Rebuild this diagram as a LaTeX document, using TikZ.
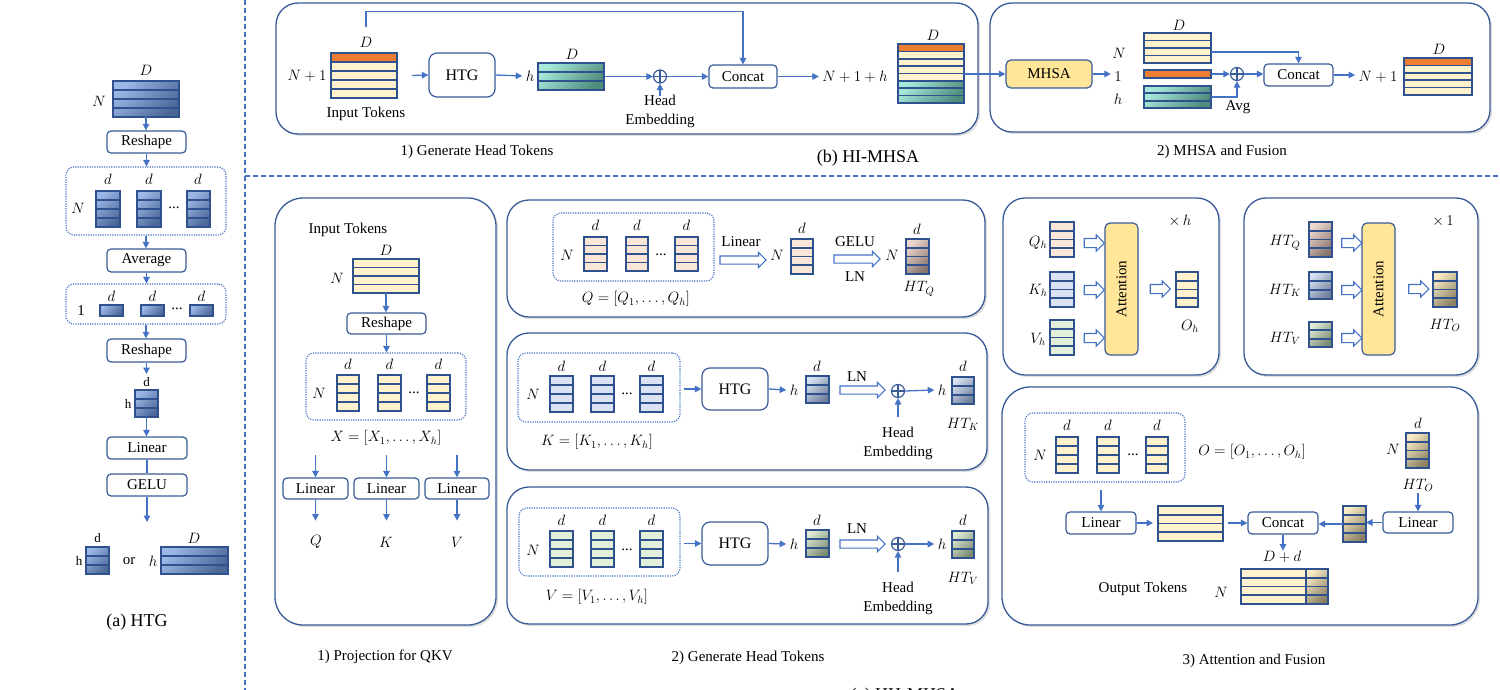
\RequirePackage{fix-cm}
\documentclass[tikz,border=0pt]{standalone}
\usepackage{fontspec}
\setmainfont{Liberation Serif}
\usetikzlibrary{arrows.meta,calc,shapes.arrows,shadows}
\definecolor{lblue}{HTML}{4472C4}
\definecolor{dblue}{HTML}{3A5B98}
\definecolor{mborder}{HTML}{2F528F}
\definecolor{yel}{HTML}{FFF2CC}
\definecolor{org}{HTML}{ED7D31}
\definecolor{cQ}{HTML}{FBE5D6}
\definecolor{cK}{HTML}{DAE3F3}
\definecolor{cV}{HTML}{E2F0D9}
\definecolor{attn}{HTML}{FFE699}
\definecolor{aT}{HTML}{9DB7E6}\definecolor{aB}{HTML}{4B6797}
\definecolor{tT}{HTML}{A6E8DA}\definecolor{tB}{HTML}{4F8C7C}
\definecolor{qT}{HTML}{EED8D0}\definecolor{qB}{HTML}{85746C}
\definecolor{kT}{HTML}{D8E3F2}\definecolor{kB}{HTML}{6E7F9B}
\definecolor{vT}{HTML}{DEEAD4}\definecolor{vB}{HTML}{7A8A6E}
\definecolor{oT}{HTML}{F8EAC2}\definecolor{oB}{HTML}{8A8063}
\tikzset{
  every node/.style={font=\fontsize{15}{19}\selectfont},
  big/.style={font=\fontsize{18}{22}\selectfont},
  htgf/.style={font=\fontsize{16}{19}\selectfont},
  arr/.style={-{Triangle[length=6.5pt,width=6.5pt]}, draw=lblue, line width=1.3pt},
  ln/.style={draw=lblue, line width=1.3pt},
  sepl/.style={draw=lblue, line width=1.5pt, dash pattern=on 5pt off 3pt},
  panel/.style={draw=dblue, line width=1.3pt, rounded corners=22pt, fill=white,
     drop shadow={opacity=0.25, shadow xshift=2pt, shadow yshift=-2pt}},
  opbox/.style={draw=dblue, line width=1.2pt, rounded corners=4pt, fill=white, inner sep=0pt},
  dotbox/.style={draw=lblue, line width=1.1pt, dash pattern=on 1.2pt off 1.2pt, rounded corners=8pt, inner sep=0pt},
  mframe/.style={draw=mborder, line width=1.7pt, inner sep=0pt, outer sep=0pt, anchor=north west},
  msep/.style={draw=mborder, line width=1.7pt},
  fillY/.style={fill=yel}, fillO/.style={fill=org},
  fillQ/.style={fill=cQ}, fillK/.style={fill=cK}, fillV/.style={fill=cV},
  gradA/.style={top color=aT, bottom color=aB, shading angle=45},
  gradT/.style={top color=tT, bottom color=tB, shading angle=45},
  gradQ/.style={top color=qT, bottom color=qB, shading angle=45},
  gradK/.style={top color=kT, bottom color=kB, shading angle=45},
  gradV/.style={top color=vT, bottom color=vB, shading angle=45},
  gradO/.style={top color=oT, bottom color=oB, shading angle=45},
  oplus/.style={circle, draw=dblue, line width=1.2pt, minimum size=13pt, inner sep=0pt,
     path picture={\draw[dblue, line width=1.2pt] (path picture bounding box.north) -- (path picture bounding box.south)
       (path picture bounding box.west) -- (path picture bounding box.east);}},
  harrow/.style={single arrow, draw=lblue, fill=white, line width=1.1pt, inner xsep=0pt, inner ysep=3.5pt,
     minimum width=14pt, single arrow head extend=3.5pt, single arrow head indent=0pt},
  sharrow/.style={harrow, inner ysep=4pt, minimum width=15pt},
  attnbox/.style={draw=dblue, line width=1.2pt, fill=attn, rounded corners=5pt, inner sep=0pt},
}
\newcommand\seps[2]{\ifnum#2>1 \foreach \k in {2,...,#2}{\pgfmathsetmacro\fr{(\k-1)/#2}%
  \draw[msep] ($(#1.north west)!\fr!(#1.south west)$) -- ($(#1.north east)!\fr!(#1.south east)$);}\fi}
\newcommand\mtx[7]{\node[mframe,#7,minimum width={#4-#2},minimum height={#5-#3}] (#1) at (#2,#3) {};\seps{#1}{#6}}
\newcommand\band[5]{\pgfmathsetmacro\fa{(#3-1)/#2}\pgfmathsetmacro\fb{#4/#2}%
  \draw[msep,#5] ($(#1.north west)!\fa!(#1.south west)$) rectangle ($(#1.north east)!\fb!(#1.south east)$);}
\newcommand\obox[7][]{\node[opbox,#1,minimum width={#5-#3},minimum height={#6-#4}] (#2) at ({(#3+#5)/2},{(#4+#6)/2}) {#7};}
\begin{document}
\begin{tikzpicture}[x=1pt,y=-1pt]
\useasboundingbox (0,0) rectangle (1500,690);
\clip (0,0) rectangle (1500,690);
\fill[white] (0,0) rectangle (1500,690);
% separators
\draw[sepl] (245,0) -- (245,690);
\draw[sepl] (245,176) -- (1500,176);

% ================= (a) HTG =================
\mtx{a0}{113}{81}{179}{117}{4}{gradA}
\node (a0D) at (146,70) {$D$};
\node (a0N) at (99,101) {$N$};
\obox{ar1}{107}{131}{186}{153}{Reshape}
\draw[arr] (a0.south) -- (a0.south |- ar1.north);
\node[dotbox, minimum width=160, minimum height=68] (ad1) at (146,201) {};
\draw[arr] (ar1.south) -- (ar1.south |- ad1.north);
\mtx{a1}{96}{191}{120}{227}{4}{gradA}
\mtx{a2}{137}{191}{161}{227}{4}{gradA}
\mtx{a3}{187}{191}{210}{227}{4}{gradA}
\node (a1d) at (108,179) {$d$};
\node (a2d) at (149,179) {$d$};
\node (a3d) at (198,179) {$d$};
\node (a1N) at (78,208) {$N$};
\node (a1dots) at (174,208) {...};
\obox{aav}{107}{249}{186}{272}{Average}
\draw[arr] (ad1.south) -- (ad1.south |- aav.north);
\node[dotbox, minimum width=160, minimum height=40] (ad2) at (146,304) {};
\draw[arr] (aav.south) -- (aav.south |- ad2.north);
\mtx{b1}{100}{305}{123}{316}{1}{gradA}
\mtx{b2}{141}{305}{164}{316}{1}{gradA}
\mtx{b3}{190}{305}{213}{316}{1}{gradA}
\node (b1d) at (111.5,296) {$d$};
\node (b2d) at (152.5,296) {$d$};
\node (b3d) at (201.5,296) {$d$};
\node (b1one) at (81,311) {1};
\node (b1dots) at (177,309) {...};
\obox{ar2}{107}{339}{186}{362}{Reshape}
\draw[arr] (ad2.south) -- (ad2.south |- ar2.north);
\mtx{a4}{135}{390}{158}{417}{3}{gradA}
\node[font=\fontsize{13}{15}\selectfont] (a4d) at (146.5,382) {d};
\node[font=\fontsize{13}{15}\selectfont] (a4h) at (128,404) {h};
\coordinate (a4top) at (146.5,374);
\draw[arr] (ar2.south) -- (ar2.south |- a4top);
\obox{alin}{107}{437}{187}{459}{Linear}
\draw[arr] (a4.south) -- (a4.south |- alin.north);
\obox{agelu}{107}{474}{187}{496}{GELU}
\draw[ln] (alin.south) -- (agelu.north);
\coordinate (aend) at (147,522);
\draw[arr] (agelu.south) -- (aend);
\mtx{a5}{86}{547}{109}{574}{3}{gradA}
\node[font=\fontsize{13}{15}\selectfont] (a5d) at (97.5,538) {d};
\node[font=\fontsize{13}{15}\selectfont] (a5h) at (79,561) {h};
\node (aor) at (129,561) {or};
\node (a6h) at (153,561) {$h$};
\mtx{a6}{161}{547}{228}{574}{3}{gradA}
\node (a6D) at (194,538) {$D$};
\node[big] (acap) at (137,622) {(a) HTG};

% ================= (b) HI-MHSA =================
\draw[panel] (276,3) rectangle (978,134);
\draw[panel] (990,3) rectangle (1490,132);
\mtx{bin}{331}{53}{397}{98}{5}{fillY}
\band{bin}{5}{1}{1}{fillO}
\node (binD) at (366,42) {$D$};
\node (binN) at (307,76) {$N+1$};
\node (binT) at (366,114) {Input Tokens};
\obox[rounded corners=8pt,htgf]{bhtg}{429}{53}{495}{97}{HTG}
\coordinate (bsk) at (366,27);
\node (bh) at (530,76) {$h$};
\mtx{bte}{538}{63}{604}{90}{3}{gradT}
\node (bteD) at (572,54) {$D$};
\node[oplus] (bp1) at (660,76.5) {};
\node[align=center] (bhe) at (660,111) {Head\\Embedding};
\coordinate (bheS) at (660,96);
\obox{bcat}{709}{65}{777}{88}{Concat}
\node (bN) at (855,77) {$N+1+h$};
\mtx{bm}{898}{44}{964}{103}{8}{fillY}
\band{bm}{8}{1}{1}{fillO}
\band{bm}{8}{6}{8}{gradT}
\seps{bm}{8}
\node (bmD) at (933,35) {$D$};
\draw[arr] ($(bin.east)+(15,0)$) -- (bhtg.west);
\draw[arr] (bhtg.east) -- (bh.west);
\draw[arr] (bte.east) -- (bp1.west);
\draw[arr] (bp1.east) -- (bcat.west);
\draw[arr] (bheS) -- (bp1.south);
\draw[arr] (bsk) |- ($(bcat.north)+(0,-53)$) -- (bcat.north);
\draw[arr] (bcat.east) -- (bcat.east -| bN.west);
% MHSA and fusion
\node[attnbox, minimum width=86, minimum height=28] (bmh) at (1049,74) {MHSA};
\draw[arr] (bm.east |- bmh.west) -- (bmh.west);
\node (b1l) at (1118,77) {$1$};
\node (bNl) at (1119,53) {$N$};
\node (bhl) at (1118,99) {$h$};
\draw[arr] (bmh.east) -- (bmh.east -| b1l.west);
\mtx{bt}{1144}{33}{1211}{63}{4}{fillY}
\node (btD) at (1179,25) {$D$};
\mtx{bo}{1144}{70}{1211}{78}{1}{fillO}
\mtx{bt2}{1144}{86}{1211}{108}{3}{gradT}
\node[oplus] (bp2) at (1237,74) {};
\node (bavg) at (1238,107) {Avg};
\obox{bcat2}{1264}{64}{1333}{86}{Concat}
\node (bN2) at (1378,77) {$N+1$};
\mtx{bf}{1404}{58}{1472}{95}{5}{fillY}
\band{bf}{5}{1}{1}{fillO}
\node (bfD) at (1439,49) {$D$};
\draw[arr] (bo.east) -- (bp2.west);
\draw[arr] (bt2.east) -| (bp2.south);
\draw[arr] ($(bt.east)+(0,4)$) -| (bcat2.north);
\draw[arr] (bp2.east) -- (bp2.east -| bcat2.west);
\draw[arr] (bcat2.east) -- (bcat2.east -| bN2.west);
\node (bc1) at (477,152) {1) Generate Head Tokens};
\node (bc2) at (1222,152) {2) MHSA and Fusion};
\node[big] (bcap) at (868,158) {(b) HI-MHSA};

% ================= (c) HH-MHSA =================
\draw[panel, rounded corners=28pt] (275,198) rectangle (496,625);
\draw[panel] (507,200) rectangle (985,317);
\draw[panel] (507,333) rectangle (987,470);
\draw[panel] (507,487) rectangle (988,624);
\draw[panel] (1003,198) rectangle (1219,375);
\draw[panel] (1244,198) rectangle (1478,375);
\draw[panel, rounded corners=28pt] (1002,387) rectangle (1478,625);

% 1) projection
\node (cinT) at (348,230) {Input Tokens};
\node (cinD) at (386,250) {$D$};
\mtx{cin}{353}{259}{419}{293}{4}{fillY}
\node (cinN) at (337,278) {$N$};
\obox{cre}{347}{313}{426}{334}{Reshape}
\draw[arr] (cin.south) -- (cin.south |- cre.north);
\node[dotbox, minimum width=160, minimum height=67] (cxd) at (386,386.5) {};
\draw[arr] (cre.south) -- (cre.south |- cxd.north);
\mtx{cx1}{337}{375}{359}{411}{4}{fillY}
\mtx{cx2}{378}{375}{401}{411}{4}{fillY}
\mtx{cx3}{427}{375}{450}{411}{4}{fillY}
\node (cx1d) at (348,364) {$d$};
\node (cx2d) at (389.5,364) {$d$};
\node (cx3d) at (438.5,364) {$d$};
\node (cxN) at (319,393) {$N$};
\node (cxdots) at (414,393) {...};
\node (cX) at (386,438) {$X=[X_1,\dots,X_h]$};
\obox{cl1}{283}{478}{348}{499}{Linear}
\obox{cl2}{354}{478}{419}{499}{Linear}
\obox{cl3}{425}{478}{489}{499}{Linear}
\draw[arr] ($(cl1.north)+(0,-22)$) -- (cl1.north);
\draw[arr] ($(cl2.north)+(0,-22)$) -- (cl2.north);
\draw[arr] ($(cl3.north)+(0,-22)$) -- (cl3.north);
\draw[arr] (cl1.south) -- ($(cl1.south)+(0,21)$);
\draw[arr] (cl2.south) -- ($(cl2.south)+(0,21)$);
\draw[arr] (cl3.south) -- ($(cl3.south)+(0,21)$);
\node (cQl) at (316,542) {$Q$};
\node (cKl) at (386,542) {$K$};
\node (cVl) at (457,542) {$V$};
\node (cc1) at (385,657) {1) Projection for QKV};

% 2) Q
\node[dotbox, minimum width=161, minimum height=68] (cqd) at (633.5,247) {};
\mtx{cq1}{584}{237}{607}{271}{4}{fillQ}
\mtx{cq2}{626}{237}{648}{271}{4}{fillQ}
\mtx{cq3}{675}{237}{698}{271}{4}{fillQ}
\node (cq1d) at (595.5,225) {$d$};
\node (cq2d) at (637,225) {$d$};
\node (cq3d) at (686.5,225) {$d$};
\node (cqN) at (567,255) {$N$};
\node (cqdots) at (661,255) {...};
\node (cqF) at (636,299) {$Q=[Q_1,\dots,Q_h]$};
\node[harrow, minimum height=46] (cqa1) at (741,260) {};
\node (cqa1l) at (741,242) {Linear};
\node (cqmN) at (777,255) {$N$};
\mtx{cqm}{791}{239}{813}{274}{4}{fillQ}
\node (cqmd) at (802,228) {$d$};
\node[harrow, minimum height=46] (cqa2) at (855,259) {};
\node (cqa2a) at (855,242) {GELU};
\node (cqa2b) at (855,277) {LN};
\node (cqhN) at (892,255) {$N$};
\mtx{cqh}{906}{239}{929}{274}{4}{gradQ}
\node (cqhd) at (917,229) {$d$};
\node (cqhl) at (919,289) {$HT_Q$};

% 2) K
\node[dotbox, minimum width=162, minimum height=69] (ckd) at (599,387.5) {};
\mtx{ck1}{550}{376}{573}{412}{4}{fillK}
\mtx{ck2}{591}{376}{614}{412}{4}{fillK}
\mtx{ck3}{640}{376}{663}{412}{4}{fillK}
\node (ck1d) at (561.5,366) {$d$};
\node (ck2d) at (602.5,366) {$d$};
\node (ck3d) at (651.5,366) {$d$};
\node (ckN) at (533,394) {$N$};
\node (ckdots) at (627,394) {...};
\node (ckF) at (597,442) {$K=[K_1,\dots,K_h]$};
\obox[rounded corners=8pt,htgf]{ckhtg}{702}{368}{768}{410}{HTG}
\node (ckh) at (794,390) {$h$};
\mtx{ckm}{806}{376}{829}{403}{3}{gradK}
\node (ckmd) at (817,366) {$d$};
\node[harrow, minimum height=45] (cka) at (860.5,390) {};
\node (ckal) at (857,377) {LN};
\node[oplus] (ckp) at (898,391) {};
\node (ckh2) at (942,390) {$h$};
\mtx{ckH}{952}{377}{974}{404}{3}{gradK}
\node (ckHd) at (963,366) {$d$};
\node (ckHl) at (963,424) {$HT_K$};
\node[align=center] (ckhe) at (898,443.5) {Head\\Embedding};
\coordinate (ckheS) at (898,417);
\draw[arr] ($(ckd.east |- ckhtg.west)+(3,0)$) -- (ckhtg.west);
\draw[arr] (ckhtg.east) -- (ckh.west);
\draw[arr] (ckp.east) -- (ckh2.west);
\draw[arr] (ckheS) -- (ckp.south);

% 2) V
\node[dotbox, minimum width=161, minimum height=68] (cvd) at (599.5,542) {};
\mtx{cv1}{550}{531}{573}{567}{4}{fillV}
\mtx{cv2}{591}{531}{614}{567}{4}{fillV}
\mtx{cv3}{640}{531}{663}{567}{4}{fillV}
\node (cv1d) at (561.5,520) {$d$};
\node (cv2d) at (602.5,520) {$d$};
\node (cv3d) at (651.5,520) {$d$};
\node (cvN) at (533,550) {$N$};
\node (cvdots) at (627,550) {...};
\node (cvF) at (597,597) {$V=[V_1,\dots,V_h]$};
\obox[rounded corners=8pt,htgf]{cvhtg}{702}{522}{768}{565}{HTG}
\node (cvh) at (794,544) {$h$};
\mtx{cvm}{806}{530}{829}{557}{3}{gradV}
\node (cvmd) at (817,520) {$d$};
\node[harrow, minimum height=45] (cva) at (860.5,544) {};
\node (cval) at (857,529) {LN};
\node[oplus] (cvp) at (898,544) {};
\node (cvh2) at (942,544) {$h$};
\mtx{cvH}{952}{531}{974}{558}{3}{gradV}
\node (cvHd) at (963,520) {$d$};
\node (cvHl) at (963,578) {$HT_V$};
\node[align=center] (cvhe) at (898,598.5) {Head\\Embedding};
\coordinate (cvheS) at (898,572);
\draw[arr] ($(cvd.east |- cvhtg.west)+(3,0)$) -- (cvhtg.west);
\draw[arr] (cvhtg.east) -- (cvh.west);
\draw[arr] (cvp.east) -- (cvh2.west);
\draw[arr] (cvheS) -- (cvp.south);
\node (cc2) at (748,658) {2) Generate Head Tokens};

% 3) attention
\node (c5x) at (1180,221) {$\times\, h$};
\node (c5q) at (1038,243) {$Q_h$};
\mtx{c5Q}{1050}{222}{1074}{257}{4}{fillQ}
\node (c5k) at (1038,290) {$K_h$};
\mtx{c5K}{1050}{272}{1074}{307}{4}{fillK}
\node (c5v) at (1038,339) {$V_h$};
\mtx{c5V}{1050}{320}{1074}{355}{4}{fillV}
\node[attnbox, minimum width=33, minimum height=132] (c5A) at (1121.5,289) {};
\node[rotate=90] (c5At) at (c5A) {Attention};
\node[sharrow, minimum height=20] (c5a1) at (1092,243) {};
\node[sharrow, minimum height=20] (c5a2) at (1092,290) {};
\node[sharrow, minimum height=20] (c5a3) at (1092,338) {};
\node[sharrow, minimum height=20] (c5a4) at (1158,289) {};
\mtx{c5O}{1176}{272}{1198}{307}{4}{fillY}
\node (c5o) at (1190,326) {$O_h$};

\node (c6x) at (1443,221) {$\times\, 1$};
\node (c6q) at (1285,243) {$HT_Q$};
\mtx{c6Q}{1309}{222}{1332}{257}{4}{gradQ}
\node (c6k) at (1285,290) {$HT_K$};
\mtx{c6K}{1309}{272}{1332}{299}{3}{gradK}
\node (c6v) at (1285,338) {$HT_V$};
\mtx{c6V}{1309}{322}{1332}{347}{3}{gradV}
\node[attnbox, minimum width=33, minimum height=132] (c6A) at (1378.5,289) {};
\node[rotate=90] (c6At) at (c6A) {Attention};
\node[sharrow, minimum height=20] (c6a1) at (1349.5,243) {};
\node[sharrow, minimum height=20] (c6a2) at (1349.5,290) {};
\node[sharrow, minimum height=20] (c6a3) at (1349.5,338) {};
\node[sharrow, minimum height=20] (c6a4) at (1416.5,289) {};
\mtx{c6O}{1433}{272}{1457}{307}{4}{gradO}
\node (c6o) at (1445,325) {$HT_O$};

% fusion
\node[dotbox, minimum width=160, minimum height=69] (c7d) at (1105,447.5) {};
\mtx{c7m1}{1056}{437}{1078}{473}{4}{fillY}
\mtx{c7m2}{1097}{437}{1119}{473}{4}{fillY}
\mtx{c7m3}{1146}{437}{1168}{473}{4}{fillY}
\node (c7m1d) at (1067,425) {$d$};
\node (c7m2d) at (1108,425) {$d$};
\node (c7m3d) at (1157,425) {$d$};
\node (c7N) at (1040,455) {$N$};
\node (c7dots) at (1133,455) {...};
\node (c7F) at (1252,452) {$O=[O_1,\dots,O_h]$};
\node (c7rd) at (1418,423) {$d$};
\node (c7rN) at (1393,449) {$N$};
\mtx{c7ho}{1406}{433}{1429}{468}{4}{gradO}
\node (c7hl) at (1418,485) {$HT_O$};
\obox{c7lr}{1383}{512}{1453}{533}{Linear}
\mtx{c7sm}{1343}{506}{1366}{542}{4}{gradO}
\obox{c7cat}{1248}{512}{1318}{534}{Concat}
\obox{c7ll}{1066}{512}{1136}{534}{Linear}
\mtx{c7w}{1158}{506}{1223}{541}{4}{fillY}
\node (c7Dd) at (1282,557) {$D+d$};
\mtx{c7out}{1241}{569}{1328}{604}{4}{fillY}
\draw[msep, gradO] ($(c7out.north west)+(65,0)$) rectangle (c7out.south east);
\seps{c7out}{4}
\node (c7oN) at (1221,592) {$N$};
\node (c7oT) at (1143,589) {Output Tokens};
\coordinate (c7hS) at (1418,493);
\draw[arr] (c7hS) -- (c7lr.north);
\draw[arr] (c7lr.west) -- (c7lr.west -| c7sm.east);
\draw[arr] (c7sm.west) -- (c7sm.west -| c7cat.east);
\coordinate (c7dS) at (1101,490);
\draw[arr] (c7dS) -- (c7ll.north);
\draw[arr] (c7ll.east) -- ($(c7ll.east -| c7w.west)+(-5,0)$);
\draw[arr] ($(c7w.east |- c7cat.west)+(5,0)$) -- (c7cat.west);
\draw[arr] (c7cat.south) -- ($(c7cat.south)+(0,16)$);
\node (cc3) at (1254,661) {3) Attention and Fusion};
\node[big, anchor=base] (ccap) at (905,700) {(c) HH-MHSA};
\end{tikzpicture}
\end{document}
